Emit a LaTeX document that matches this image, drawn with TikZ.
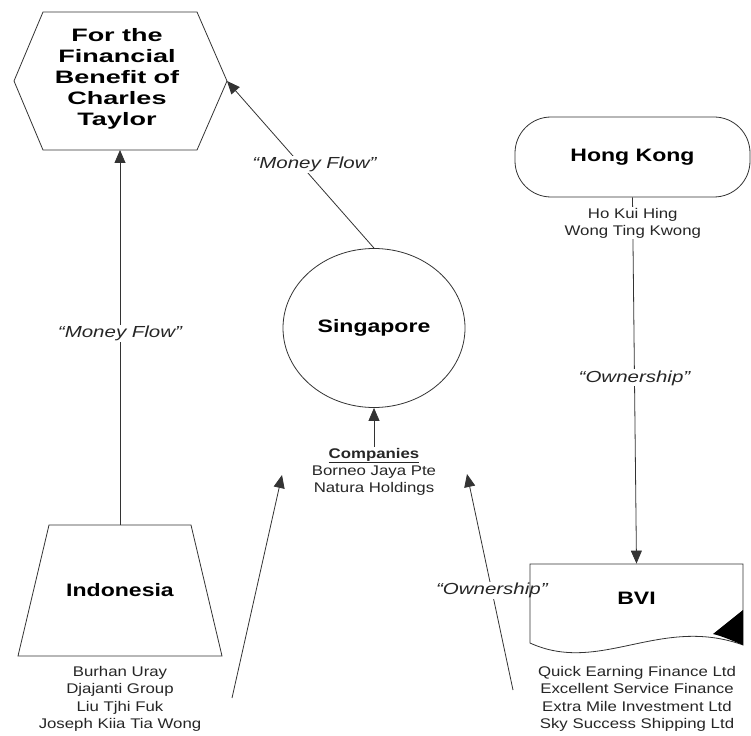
\documentclass[tikz,border=0pt]{standalone}
\usepackage{fontspec}
\setmainfont[FakeStretch=1.2]{Liberation Sans}
\newfontfamily\headfont[FakeStretch=1.28]{Liberation Sans}
\newfontfamily\titlefont[FakeStretch=1.5]{Liberation Sans}
\usetikzlibrary{shapes.geometric,arrows.meta}

\begin{document}
\begin{tikzpicture}[x=1pt,y=-1pt]
  \tikzset{
    place shape/.style={draw=black!80, line width=0.8pt, align=center, inner sep=0pt,
      font=\headfont\bfseries\fontsize{18}{21}\selectfont},
    name list/.style={align=center, fill=white, inner sep=1pt, text=black!85,
      font=\fontsize{14}{17.3}\selectfont},
    flow label/.style={fill=white, inner sep=1pt, text=black!85,
      font=\headfont\itshape\fontsize{16}{18}\selectfont},
    flow arrow/.style={draw=black!80, line width=0.8pt,
      -{Triangle[length=13pt,width=11pt]}}
  }
  \useasboundingbox (0,0) rectangle (751,735);
  % benefit hexagon
  \node[place shape, draw=none, font=\titlefont\bfseries\fontsize{18}{21}\selectfont]
    (benefit) at (117,79) {For the\\Financial\\Benefit of\\Charles\\Taylor};
  \draw[black!80, line width=0.8pt] (14,81) -- (43,12) -- (197,12) -- (227,81)
    -- (197,150) -- (43,150) -- cycle;
  \coordinate (benefit east) at (227,81);
  \coordinate (benefit south) at (120,150);
  % indonesia
  \node[place shape, draw=none] (indonesia) at (120,590) {Indonesia};
  \draw[black!80, line width=0.8pt] (49,525) -- (191,525) -- (222,656) -- (18,656) -- cycle;
  \coordinate (indonesia top) at (120,525);
  \node[name list] (indonesia names) at (120,699)
    {Burhan Uray\\Djajanti Group\\Liu Tjhi Fuk\\Joseph Kiia Tia Wong};
  % singapore
  \node[place shape, ellipse, minimum width=182pt, minimum height=159pt]
    (singapore) at (374,328) {Singapore};
  \node[name list] (companies) at (374,472)
    {\textbf{\underline{Companies}}\\Borneo Jaya Pte\\Natura Holdings};
  % hong kong and bvi
  \node[place shape, rectangle, rounded corners=36pt, minimum width=235pt,
    minimum height=80pt] (hongkong) at (632.5,157) {Hong Kong};
  \node[place shape, draw=none, minimum width=213pt, minimum height=68pt]
    (bvi) at (636.5,598) {BVI};
  \node[name list] (bvi names) at (637,699)
    {Quick Earning Finance Ltd\\Excellent Service Finance\\Extra Mile Investment Ltd\\Sky Success Shipping Ltd};
  % flows
  \draw[flow arrow] (indonesia top) -- node[flow label, pos=0.51] {“Money Flow”} (benefit south);
  \draw[flow arrow] (singapore.north) -- node[flow label, pos=0.5, xshift=14pt] {“Money Flow”} (benefit east);
  \draw[flow arrow] (companies.north) -- (singapore.south);
  \draw[flow arrow] (hongkong.south)
    -- node[name list, pos=0.07] {Ho Kui Hing\\Wong Ting Kwong}
       node[flow label, pos=0.493] {“Ownership”} (bvi.north);
  \coordinate (indonesia link) at (232,698);
  \coordinate (companies left) at (282,475);
  \coordinate (bvi link) at (513,690);
  \coordinate (companies right) at (467,474);
  \draw[flow arrow] (indonesia link) -- (companies left);
  \draw[flow arrow] (bvi link) -- node[flow label, pos=0.46] {“Ownership”} (companies right);
  % bvi document outline
  \draw[black!80, line width=0.8pt] (530,564) -- (743,564) -- (743,645)
    .. controls (660,615) and (600,675) .. (530,643) -- cycle;
  \fill (743,610) -- (743,645) .. controls (733,641) and (722,636) .. (713,634) -- cycle;
\end{tikzpicture}
\end{document}
